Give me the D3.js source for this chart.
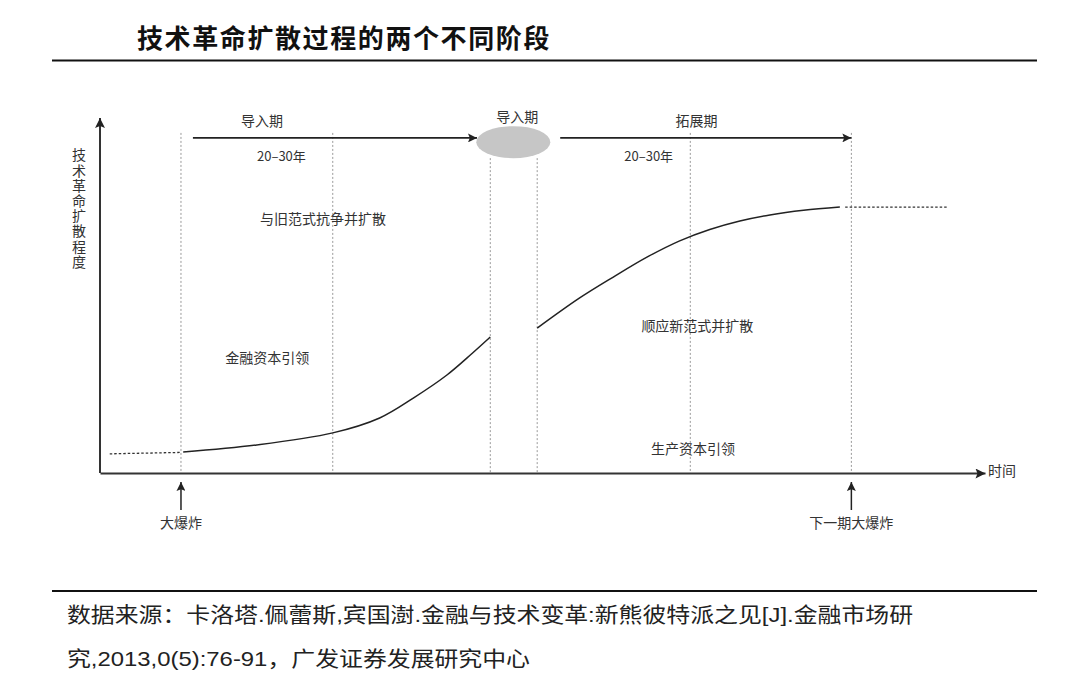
<!DOCTYPE html>
<html><head><meta charset="utf-8">
<script src="https://cdn.jsdelivr.net/npm/d3@7"></script>
<style>
html,body{margin:0;padding:0;background:#fff;}
svg{display:block;}
</style></head>
<body>
<svg id="chart" width="1080" height="690"></svg>
<script>
// ---- data (time units 0-100, diffusion degree 0-100) ----
const title = "技术革命扩散过程的两个不同阶段";
const yAxisLabel = "技术革命扩散程度";
const xAxisLabel = "时间";
const stageBoundaries = [9.15, 26.3, 44.1, 49.4, 66.7, 84.9];
const boundaryTops   = [95.8, 95.8, 88.7, 88.7, 95.8, 95.8];
const curveLeftDotted  = [[1.1, 5.4], [9.2, 5.8]];
const curveLeftSolid   = [[9.4, 5.9], [17.7, 7.9], [26.3, 11.3], [31.6, 15.5], [35.4, 21.1], [39.2, 27.6], [42.1, 33.8], [44.1, 38.3]];
const curveRightSolid  = [[49.4, 40.8], [54.2, 49.3], [58.0, 55.2], [61.8, 60.8], [65.5, 65.4], [68.9, 68.6], [72.3, 71.0], [75.7, 72.7], [79.5, 74.0], [83.6, 74.9]];
const curveRightDotted = [[84.2, 74.9], [95.8, 74.9]];
const phaseArrows = [
  {from: 10.5, to: 42.6, level: 94.4, name: "导入期", nameT: 18.3, span: "20–30年", spanT: 20.5},
  {from: 52.0, to: 84.9, level: 94.4, name: "拓展期", nameT: 67.4, span: "20–30年", spanT: 62},
];
const turningPoint = {t: 46.7, v: 93.2, label: "导入期"};
const regionLabels = [
  {t: 25.2, v: 71.5, text: "与旧范式抗争并扩散"},
  {t: 18.9, v: 32.5, text: "金融资本引领"},
  {t: 67.5, v: 41.5, text: "顺应新范式并扩散"},
  {t: 67.0, v: 6.8,  text: "生产资本引领"},
];
const bigBangs = [
  {t: 9.15, text: "大爆炸"},
  {t: 84.9, text: "下一期大爆炸"},
];
const sourceLines = [
  "数据来源：卡洛塔.佩蕾斯,宾国澍.金融与技术变革:新熊彼特派之见[J].金融市场研",
  "究,2013,0(5):76-91，广发证券发展研究中心"
];
const sourceWidths = [846, 463];

// ---- drawing ----
const svg = d3.select("#chart");
const cjk = "'Noto Sans CJK SC','Noto Sans',sans-serif";
const x = d3.scaleLinear().domain([0, 100]).range([100, 985]);
const y = d3.scaleLinear().domain([0, 100]).range([473, 118]);

const defs = svg.append("defs");
defs.append("marker").attr("id", "arr").attr("viewBox", "0 0 10 10")
  .attr("refX", 10).attr("refY", 5).attr("markerWidth", 9).attr("markerHeight", 9)
  .attr("markerUnits", "userSpaceOnUse").attr("orient", "auto")
  .append("path").attr("d", "M0,0L10,5L0,10L2,5Z").attr("fill", "#222");
defs.append("marker").attr("id", "arrBig").attr("viewBox", "0 0 10 10")
  .attr("refX", 10).attr("refY", 5).attr("markerWidth", 12).attr("markerHeight", 10)
  .attr("markerUnits", "userSpaceOnUse").attr("orient", "auto")
  .append("path").attr("d", "M0,0L10,5L0,10L2,5Z").attr("fill", "#222");

// title
svg.append("text").attr("x", 137).attr("y", 48).text(title)
  .attr("font-family", cjk).attr("font-weight", 700).attr("font-size", 26)
  .attr("letter-spacing", 1.6).attr("fill", "#111");
svg.append("line").attr("x1", 52).attr("x2", 1037).attr("y1", 60.5).attr("y2", 60.5)
  .attr("stroke", "#111").attr("stroke-width", 2);

// stage boundaries
svg.append("g").selectAll("line").data(stageBoundaries).join("line")
  .attr("x1", d => x(d)).attr("x2", d => x(d))
  .attr("y1", (d, i) => y(boundaryTops[i])).attr("y2", y(0))
  .attr("stroke", "#9a9a9a").attr("stroke-width", 1).attr("stroke-dasharray", "2,2");

// axes
const xAxis = svg.append("g").attr("transform", `translate(0,${y(0)})`)
  .call(d3.axisBottom(x).ticks(0).tickSizeOuter(0));
xAxis.select(".domain").attr("stroke", "#333").attr("stroke-width", 2).attr("marker-end", "url(#arrBig)");
const yAxis = svg.append("g").attr("transform", `translate(${x(0)},0)`)
  .call(d3.axisLeft(y).ticks(0).tickSizeOuter(0));
yAxis.select(".domain").attr("stroke", "#333").attr("stroke-width", 2)
  .attr("d", `M0,${y(0)}V${y(100)}`).attr("marker-end", "url(#arrBig)");

svg.append("text").attr("x", 988).attr("y", 476).text(xAxisLabel)
  .attr("font-family", cjk).attr("font-size", 14).attr("fill", "#333");
svg.append("text").attr("x", 79).attr("y", 148).text(yAxisLabel)
  .attr("writing-mode", "vertical-rl").style("writing-mode", "vertical-rl")
  .attr("letter-spacing", 1.2)
  .attr("font-family", cjk).attr("font-size", 14).attr("fill", "#333");

// curve
const line = d3.line().x(d => x(d[0])).y(d => y(d[1])).curve(d3.curveCatmullRom.alpha(0.5));
svg.append("path").datum(curveLeftSolid).attr("d", line).attr("fill", "none").attr("stroke", "#222").attr("stroke-width", 1.5);
svg.append("path").datum(curveRightSolid).attr("d", line).attr("fill", "none").attr("stroke", "#222").attr("stroke-width", 1.5);
[curveLeftDotted, curveRightDotted].forEach(seg =>
  svg.append("path").datum(seg).attr("d", line).attr("fill", "none")
    .attr("stroke", "#333").attr("stroke-width", 1.3).attr("stroke-dasharray", "2.5,2"));

// phase arrows
const pa = svg.append("g");
pa.selectAll("line").data(phaseArrows).join("line")
  .attr("x1", d => x(d.from)).attr("x2", d => x(d.to))
  .attr("y1", d => y(d.level)).attr("y2", d => y(d.level))
  .attr("stroke", "#222").attr("stroke-width", 1.6).attr("marker-end", "url(#arr)");
pa.selectAll("text.name").data(phaseArrows).join("text").attr("class", "name")
  .attr("x", d => x(d.nameT)).attr("y", d => y(d.level) - 12).attr("text-anchor", "middle")
  .attr("font-family", cjk).attr("font-size", 14).attr("fill", "#333").text(d => d.name);
pa.selectAll("text.span").data(phaseArrows).join("text").attr("class", "span")
  .attr("x", d => x(d.spanT)).attr("y", d => y(d.level) + 23).attr("text-anchor", "middle")
  .attr("font-family", cjk).attr("font-size", 13).attr("fill", "#333").text(d => d.span);

// turning point
svg.append("ellipse").attr("cx", x(turningPoint.t)).attr("cy", y(turningPoint.v))
  .attr("rx", 37).attr("ry", 16).attr("fill", "#c6c6c6");
svg.append("text").attr("x", x(turningPoint.t) + 4).attr("y", y(turningPoint.v) - 20)
  .attr("text-anchor", "middle").attr("font-family", cjk).attr("font-size", 14)
  .attr("fill", "#333").text(turningPoint.label);

// region labels
svg.append("g").selectAll("text").data(regionLabels).join("text")
  .attr("x", d => x(d.t)).attr("y", d => y(d.v) + 5).attr("text-anchor", "middle")
  .attr("font-family", cjk).attr("font-size", 14).attr("fill", "#333").text(d => d.text);

// big bangs
const bb = svg.append("g");
bb.selectAll("line").data(bigBangs).join("line")
  .attr("x1", d => x(d.t)).attr("x2", d => x(d.t))
  .attr("y1", y(0) + 37).attr("y2", y(0) + 9)
  .attr("stroke", "#222").attr("stroke-width", 1.5).attr("marker-end", "url(#arr)");
bb.selectAll("text").data(bigBangs).join("text")
  .attr("x", d => x(d.t)).attr("y", y(0) + 55).attr("text-anchor", "middle")
  .attr("font-family", cjk).attr("font-size", 14).attr("fill", "#333").text(d => d.text);

// source
svg.append("line").attr("x1", 52).attr("x2", 1037).attr("y1", 591).attr("y2", 591)
  .attr("stroke", "#111").attr("stroke-width", 2);
svg.append("g").selectAll("text").data(sourceLines).join("text")
  .attr("x", 67).attr("y", (d, i) => 622 + i * 44)
  .attr("textLength", (d, i) => sourceWidths[i]).attr("lengthAdjust", "spacingAndGlyphs")
  .attr("font-family", "'Liberation Sans','Noto Sans CJK SC',sans-serif")
  .attr("font-size", 21).attr("fill", "#222").text(d => d);
</script>
</body></html>
